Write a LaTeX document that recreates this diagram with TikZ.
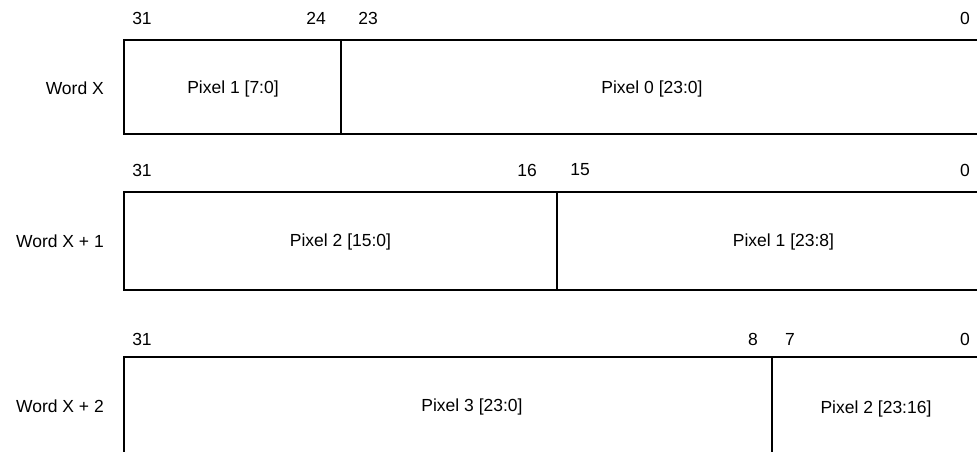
\documentclass[tikz,border=0pt]{standalone}
\usepackage{fontspec}
\setmainfont{Liberation Sans}
\begin{document}
\begin{tikzpicture}[x=1pt,y=-1pt,
  lbl/.style={inner sep=0pt,font=\fontsize{17.5}{21}\selectfont},
  box/.style={line width=2pt}]
\useasboundingbox (0,0) rectangle (977,452);
\clip (0,0) rectangle (977,452);
% Row 1
\coordinate (a1) at (124,40); \coordinate (a2) at (124,134);
\coordinate (a3) at (990,40); \coordinate (a4) at (990,134);
\coordinate (ad1) at (341,40); \coordinate (ad2) at (341,134);
\draw[box] (a3) -- (a1) -- (a2) -- (a4);
\draw[box] (ad1) -- (ad2);
\node[lbl] (b31a) at (142,18) {31};
\node[lbl] (b24) at (316,18) {24};
\node[lbl] (b23) at (368,18) {23};
\node[lbl] (b0a) at (965,18) {0};
\node[lbl,anchor=east] (w0) at (104,88) {Word X};
\node[lbl] (p10) at (233,89) {Pixel 1 [7:0]};
\node[lbl] (p00) at (652,89) {Pixel 0 [23:0]};
% Row 2
\coordinate (c1) at (124,192); \coordinate (c2) at (124,290);
\coordinate (c3) at (990,192); \coordinate (c4) at (990,290);
\coordinate (cd1) at (557,192); \coordinate (cd2) at (557,290);
\draw[box] (c3) -- (c1) -- (c2) -- (c4);
\draw[box] (cd1) -- (cd2);
\node[lbl] (b31b) at (142,170) {31};
\node[lbl] (b16) at (527,170) {16};
\node[lbl] (b15) at (580,170) {15};
\node[lbl] (b0b) at (965,170) {0};
\node[lbl,anchor=east] (w1) at (104,241) {Word X + 1};
\node[lbl] (p21) at (340.5,242) {Pixel 2 [15:0]};
\node[lbl] (p11) at (783.5,242) {Pixel 1 [23:8]};
% Row 3
\coordinate (e1) at (124,357); \coordinate (e2) at (124,470);
\coordinate (e3) at (990,357);
\coordinate (ed1) at (772,357); \coordinate (ed2) at (772,470);
\draw[box] (e3) -- (e1) -- (e2);
\draw[box] (ed1) -- (ed2);
\node[lbl] (b31c) at (142,339) {31};
\node[lbl] (b8) at (753,339) {8};
\node[lbl] (b7) at (790,339) {7};
\node[lbl] (b0c) at (965,339) {0};
\node[lbl,anchor=east] (w2) at (104,406) {Word X + 2};
\node[lbl] (p32) at (472,407) {Pixel 3 [23:0]};
\node[lbl] (p22) at (876,409) {Pixel 2 [23:16]};
\end{tikzpicture}
\end{document}
